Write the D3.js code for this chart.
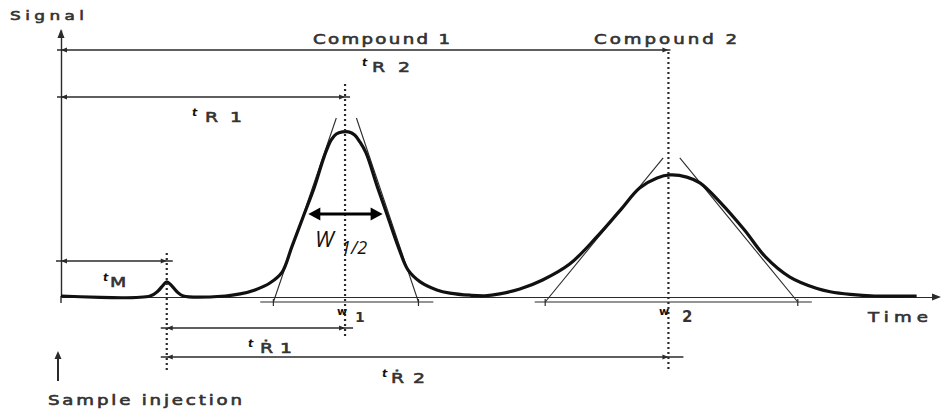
<!DOCTYPE html>
<html><head><meta charset="utf-8">
<script src="https://cdn.jsdelivr.net/npm/d3@7"></script>
<style>body{margin:0;background:#fff}svg{display:block}</style>
</head><body>
<svg id="c" width="941" height="417"></svg>
<script>
// ---------- data (time and signal in arbitrary units) ----------
const curveTime   = [0,10.2,11.1,11.7,12.1,12.6,13.3,14.0,18.8,20.5,22.2,23.9,25.3,26.4,27.7,29.0,30.1,30.9,31.5,32.2,32.9,33.6,34.2,34.9,36.2,37.4,38.6,39.7,41.1,43.0,44.5,46.8,48.5,50.2,52.5,55.1,58.2,61.3,64.0,66.2,68.2,69.7,71.6,73.1,75.4,78.2,80.6,83.4,86.5,88.0,90.3,93.1,97.9];
const curveSignal = [0,0,1.9,4.1,5.3,4.1,1.5,0,0,0.8,2.3,4.9,9.0,18.4,29.7,41.0,52.3,58.6,60.9,61.7,61.7,60.5,57.9,53.8,41.0,29.7,18.4,9.8,5.3,2.3,1.1,0.3,0.1,0.8,2.6,6.0,12.0,22.2,32.3,40.6,44.4,45.5,44.7,42.5,35.3,24.8,14.7,7.1,2.8,1.6,0.6,0,0];
const injectionTime  = 12.1;            // t_M peak
const retentionTimes = [32.5, 69.5];    // t_R1, t_R2
const compoundNames  = ["Compound 1", "Compound 2"];
const tangentBase    = [[24.3, 40.9], [55.4, 84.3]];   // tangent intersections with baseline
const tangentTop     = [[31.5, 33.8], [68.9, 70.8]];   // tangent upper ends
const tangentTopSig  = [66.9, 51.9];
const widthLine      = [[22.8, 42.6], [54.2, 85.9]];
const baseSig        = -2.26;
const halfWidthTimes = [28.3, 36.8];
const halfWidthSig   = 30.8;

// ---------- scales ----------
const x = d3.scaleLinear().domain([0, 100]).range([61, 935]);
const y = d3.scaleLinear().domain([0, 100]).range([296, 30]);

const svg = d3.select("#c");
const ink = "#2a2a2a";
const txt = "#333";
const FONT = "DejaVu Sans";

function arrow(px, py, dir, len, hw, col) {
  const c = Math.cos(dir), s = Math.sin(dir);
  const bx = px - c * len, by = py - s * len;
  const pts = [[px, py], [bx - s * hw, by + c * hw], [bx + s * hw, by - c * hw]];
  svg.append("path").attr("d", "M" + pts.join("L") + "Z").attr("fill", col || ink);
}
function hline(x1, x2, yy, w) {
  svg.append("line").attr("x1", x1).attr("x2", x2).attr("y1", yy).attr("y2", yy)
    .attr("stroke", ink).attr("stroke-width", w || 1.3);
}
function vdots(xx, y1, y2) {
  svg.append("line").attr("x1", xx).attr("x2", xx).attr("y1", y1).attr("y2", y2)
    .attr("stroke", ink).attr("stroke-width", 2.2).attr("stroke-dasharray", "2,3");
}
// wide lettering: stretch glyphs horizontally (max 1.3x) and spread the rest
function wide(tx, ty, str, len, size) {
  const t = svg.append("text").attr("x", 0).attr("y", 0).text(str)
    .attr("font-family", FONT).attr("font-size", size).attr("fill", txt)
    .attr("stroke", txt).attr("stroke-width", 0.6);
  const w0 = t.node().getComputedTextLength();
  const s = Math.min(1.3, len / w0);
  t.attr("transform", "translate(" + tx + "," + ty + ") scale(" + s + ",1)");
  if (len / s > w0 + 0.5) t.attr("textLength", len / s).attr("lengthAdjust", "spacing");
  return t;
}
function label(tx, ty, str, size, opts) {
  const t = svg.append("text").attr("x", tx).attr("y", ty).text(str)
    .attr("font-family", (opts && opts.family) || FONT).attr("font-size", size)
    .attr("fill", (opts && opts.fill) || txt);
  if (opts && opts.italic) t.attr("font-style", "italic");
  if (opts && opts.bold) t.attr("font-weight", "bold");
  return t;
}
function tLabel(tx, ty, rest, restX, restLen) {
  label(tx, ty - 6, "t", 11, {italic: true, bold: true, fill: "#111"});
  wide(restX, ty, rest, restLen, 14.5);
}

// ---------- axes ----------
const xAxis = d3.axisBottom(x).tickValues([]).tickSizeOuter(0);
svg.append("g").attr("transform", "translate(0,297)").call(xAxis)
  .call(g => g.select(".domain").attr("stroke", ink).attr("stroke-width", 1.2));
arrow(941, 297, 0, 9, 3.5);
svg.append("line").attr("x1", 934).attr("x2", 933).attr("y1", 297).attr("y2", 297).attr("stroke", ink).attr("stroke-width", 1.2);

const yAxis = d3.axisLeft(y).tickValues([]).tickSizeOuter(0);
svg.append("g").attr("transform", "translate(" + x(0) + ",0)").call(yAxis)
  .call(g => g.select(".domain").attr("stroke", ink).attr("stroke-width", 1.4));
svg.append("line").attr("x1", x(0)).attr("x2", x(0)).attr("y1", y(0)).attr("y2", 303)
  .attr("stroke", ink).attr("stroke-width", 1.4);
arrow(x(0), 29, -Math.PI / 2, 9, 3.5);

// ---------- tangents and base width lines ----------
[0, 1].forEach(i => {
  svg.append("line").attr("x1", x(tangentBase[i][0])).attr("y1", y(baseSig))
    .attr("x2", x(tangentTop[i][0])).attr("y2", y(tangentTopSig[i]))
    .attr("stroke", ink).attr("stroke-width", 1.1);
  svg.append("line").attr("x1", x(tangentBase[i][1])).attr("y1", y(baseSig))
    .attr("x2", x(tangentTop[i][1])).attr("y2", y(tangentTopSig[i]))
    .attr("stroke", ink).attr("stroke-width", 1.1);
  hline(x(widthLine[i][0]), x(widthLine[i][1]), y(baseSig), 1.1);
  tangentBase[i].forEach(tb => {
    svg.append("line").attr("x1", x(tb)).attr("x2", x(tb)).attr("y1", y(baseSig) - 3).attr("y2", y(baseSig) + 4)
      .attr("stroke", ink).attr("stroke-width", 1.2);
  });
});

// ---------- chromatogram ----------
const line = d3.line().x((d, i) => x(curveTime[i])).y((d, i) => y(curveSignal[i]))
  .curve(d3.curveCatmullRom.alpha(0.5));
svg.append("path").attr("d", line(curveTime)).attr("fill", "none")
  .attr("stroke", "#111").attr("stroke-width", 3.2).attr("stroke-linejoin", "round");

// ---------- dotted verticals ----------
vdots(x(injectionTime), 253, 370);
vdots(x(retentionTimes[0]), 84, 338);
vdots(x(retentionTimes[1]), 52, 370);

// ---------- dimension lines ----------
const xa = x(0), xi = x(injectionTime), x1 = x(retentionTimes[0]), x2 = x(retentionTimes[1]);
hline(xa - 4, x2 + 2, 50, 1.4); arrow(x2, 50, 0, 6, 2.5); arrow(xa, 50, Math.PI, 6, 2.5);
hline(xa - 4, x1 + 5, 97, 1.4); arrow(x1, 97, 0, 6, 2.5); arrow(xa, 97, Math.PI, 6, 2.5);
hline(xa - 5, xi + 6, 261, 1.3); arrow(xi, 261, 0, 6, 2.5); arrow(xa, 261, Math.PI, 6, 2.5);
hline(xi - 6, x1 + 8, 328, 1.3); arrow(x1, 328, 0, 6, 2.5); arrow(xi, 328, Math.PI, 6, 2.5);
hline(xi - 6, x2 + 15, 357, 1.3); arrow(x2, 357, 0, 6, 2.5); arrow(xi, 357, Math.PI, 6, 2.5);

// half width arrow
const hy = y(halfWidthSig);
svg.append("line").attr("x1", x(halfWidthTimes[0]) + 8).attr("x2", x(halfWidthTimes[1]) - 8)
  .attr("y1", hy).attr("y2", hy).attr("stroke", "#000").attr("stroke-width", 3);
arrow(x(halfWidthTimes[0]), hy, Math.PI, 12, 6.5, "#000");
arrow(x(halfWidthTimes[1]), hy, 0, 12, 6.5, "#000");

// sample injection arrow
svg.append("line").attr("x1", 58).attr("x2", 58).attr("y1", 381).attr("y2", 358)
  .attr("stroke", ink).attr("stroke-width", 2);
arrow(58, 351, -Math.PI / 2, 8, 3.5);

// ---------- texts ----------
wide(10, 20, "Signal", 74, 13);
wide(313, 44, compoundNames[0], 137, 14);
wide(594, 44, compoundNames[1], 143, 14);
wide(868, 322, "Time", 60, 14);
wide(48, 405, "Sample injection", 194, 14);

tLabel(362, 72, "R2", 372, 38);
tLabel(192, 122, "R1", 205, 37);
tLabel(103, 287, "M", 110, 20);
tLabel(248, 353, "\u1E581", 260, 32);
tLabel(382, 383, "\u1E582", 391, 34);

label(337, 315, "w", 11, {bold: true, fill: "#111"});
label(355, 322, "1", 14, {bold: true});
label(659, 315, "w", 11, {bold: true, fill: "#111"});
label(682, 322, "2", 15, {bold: true});

label(315, 247, "W", 22, {italic: true, family: "Open Sans", fill: "#111"});
label(341, 254, "1/2", 18, {italic: true, family: "Open Sans", fill: "#111"});
</script>
</body></html>
